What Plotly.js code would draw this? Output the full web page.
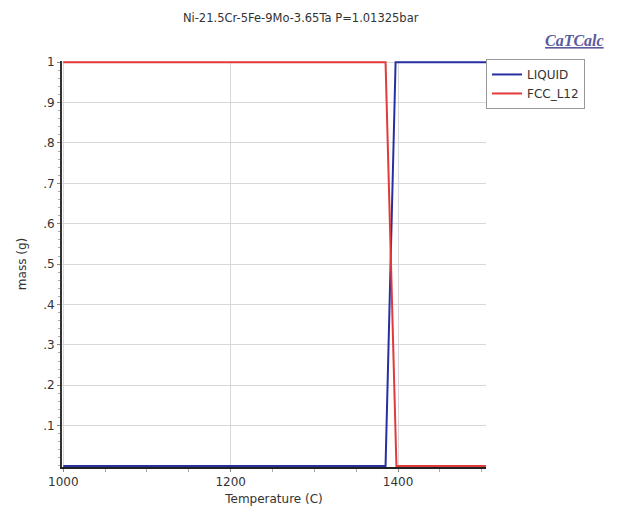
<!DOCTYPE html>
<html><head><meta charset="utf-8">
<script src="https://cdn.plot.ly/plotly-3.0.1.min.js"></script>
<style>body{margin:0;background:#fff}#chart{width:620px;height:509px}</style>
</head><body><div id="chart"></div>
<script>
const liquidT = [1000, 1385, 1397, 1505];
const liquidMass = [0, 0, 1, 1];
const fccT = [1000, 1385, 1398, 1505];
const fccMass = [1, 1, 0, 0];
const yTickVals = [0.1,0.2,0.3,0.4,0.5,0.6,0.7,0.8,0.9,1];
const yTickText = ['.1','.2','.3','.4','.5','.6','.7','.8','.9','1'];
const xTickVals = [1000,1200,1400];

const font = {family:'DejaVu Sans', size:11, color:'#333'};
const traces = [
  {x: liquidT, y: liquidMass, name:'LIQUID', mode:'lines', line:{color:'#2a2fa0', width:2}, cliponaxis:false},
  {x: fccT, y: fccMass, name:'FCC_L12', mode:'lines', line:{color:'#e23a3a', width:2}, cliponaxis:false}
];
const layout = {
  width:620, height:509,
  margin:{l:62, r:134, t:61, b:42},
  paper_bgcolor:'#fff', plot_bgcolor:'#fff',
  font: font,
  showlegend:true,
  title:{text:'Ni-21.5Cr-5Fe-9Mo-3.65Ta P=1.01325bar', x:0.485, xanchor:'center', y:0.965, yanchor:'middle', font:{family:'DejaVu Sans', size:11.5, color:'#333'}},
  xaxis:{
    range:[998.5, 1505], tickvals:xTickVals, ticktext:xTickVals.map(String),
    showgrid:true, gridcolor:'#d8d8dc', gridwidth:1,
    showline:true, linecolor:'#222', linewidth:1.5, layer:'below traces',
    ticks:'outside', ticklen:3, tickcolor:'#888',
    minor:{dtick:50, tick0:1000, ticks:'outside', ticklen:3, tickcolor:'#aaa', showgrid:false},
    zeroline:false, tickfont:{family:'DejaVu Sans', size:12, color:'#333'},
    title:{text:'Temperature (C)', standoff:6, font:{family:'DejaVu Sans', size:12, color:'#333'}}
  },
  yaxis:{
    range:[-0.0025, 1.003], tickvals:yTickVals, ticktext:yTickText,
    showgrid:true, gridcolor:'#d8d8dc', gridwidth:1,
    showline:true, linecolor:'#333', linewidth:2, layer:'below traces',
    ticks:'outside', ticklen:3, tickcolor:'#888',
    minor:{dtick:0.02, tick0:0, ticks:'outside', ticklen:2, tickcolor:'#aaa', showgrid:false},
    zeroline:false, tickfont:{family:'DejaVu Sans', size:12, color:'#333'},
    title:{text:'mass (g)', standoff:14, font:{family:'DejaVu Sans', size:12, color:'#333'}}
  },
  legend:{x:1.0, xanchor:'left', y:1.005, yanchor:'top', bgcolor:'#fff', bordercolor:'#999', borderwidth:1,
    font:{family:'DejaVu Sans', size:12, color:'#333'}, tracegroupgap:0, itemwidth:30},
  annotations:[{text:'<b><i><u>CaTCalc</u></i></b>', xref:'paper', yref:'paper', x:1.283, y:1.025, xanchor:'right', yanchor:'bottom', showarrow:false,
    font:{family:'Liberation Serif', size:16, color:'#5a5a9c'}}]
};
Plotly.newPlot('chart', traces, layout, {displayModeBar:false, staticPlot:true});
</script></body></html>
